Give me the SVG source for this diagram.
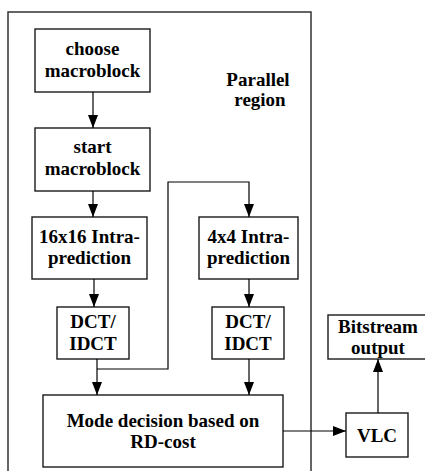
<svg xmlns="http://www.w3.org/2000/svg" width="425" height="471" viewBox="0 0 425 471">
<defs>
<marker id="ah" markerUnits="userSpaceOnUse" markerWidth="13" markerHeight="10" refX="13" refY="5" orient="auto">
<path d="M0,0 L13,5 L0,10 Z" fill="#000"/>
</marker>
</defs>
<style>
.box{fill:#fff;stroke:#1a1a1a;stroke-width:1.4}
.region{fill:none;stroke:#333;stroke-width:1.5}
.t{font-family:"Liberation Serif","Times New Roman",serif;font-weight:bold;font-size:19px;fill:#000;text-anchor:middle}
.c{fill:none;stroke:#000;stroke-width:1.2}
</style>
<rect width="425" height="471" fill="#fff"/>
<g id="parallel-region">
<rect class="region" x="8" y="12" width="303" height="470"/>
<text class="t" x="258" y="86">Parallel</text>
<text class="t" x="260" y="106">region</text>
</g>
<g id="choose">
<rect class="box" x="35" y="29" width="115" height="63"/>
<text class="t" x="92.5" y="55">choose</text>
<text class="t" x="92.5" y="77">macroblock</text>
</g>
<g id="start">
<rect class="box" x="35" y="128" width="115" height="63"/>
<text class="t" x="92.5" y="153">start</text>
<text class="t" x="92.5" y="175">macroblock</text>
</g>
<g id="intra16">
<rect class="box" x="32" y="217" width="115" height="62"/>
<text class="t" x="89.5" y="243">16x16 Intra-</text>
<text class="t" x="89.5" y="264">prediction</text>
</g>
<g id="dct1">
<rect class="box" x="57" y="307" width="72" height="52"/>
<text class="t" x="93" y="328">DCT/</text>
<text class="t" x="93" y="350">IDCT</text>
</g>
<g id="intra4">
<rect class="box" x="199" y="217" width="99" height="62"/>
<text class="t" x="248.5" y="243">4x4 Intra-</text>
<text class="t" x="248.5" y="264">prediction</text>
</g>
<g id="dct2">
<rect class="box" x="212" y="307" width="72" height="52"/>
<text class="t" x="248" y="328">DCT/</text>
<text class="t" x="248" y="350">IDCT</text>
</g>
<g id="mode">
<rect class="box" x="43" y="395" width="240" height="72"/>
<text class="t" x="163" y="427">Mode decision based on</text>
<text class="t" x="163" y="448">RD-cost</text>
</g>
<g id="vlc">
<rect class="box" x="346" y="413" width="62" height="44"/>
<text class="t" x="377" y="442">VLC</text>
</g>
<g id="bitstream">
<rect class="box" x="328" y="315" width="100" height="44"/>
<text class="t" x="378" y="333">Bitstream</text>
<text class="t" x="378" y="354">output</text>
</g>
<g id="connectors">
<line class="c" x1="93" y1="92" x2="93" y2="128" marker-end="url(#ah)"/>
<line class="c" x1="93" y1="191" x2="93" y2="217" marker-end="url(#ah)"/>
<line class="c" x1="94" y1="279" x2="94" y2="307" marker-end="url(#ah)"/>
<line class="c" x1="97" y1="359" x2="97" y2="395" marker-end="url(#ah)"/>
<polyline class="c" points="97,369 168,369 168,182 249,182 249,217" marker-end="url(#ah)"/>
<line class="c" x1="249" y1="279" x2="249" y2="307" marker-end="url(#ah)"/>
<line class="c" x1="249" y1="359" x2="249" y2="395" marker-end="url(#ah)"/>
<line class="c" x1="283" y1="431" x2="346" y2="431" marker-end="url(#ah)"/>
<line class="c" x1="378" y1="413" x2="378" y2="359" marker-end="url(#ah)"/>
</g>
</svg>
